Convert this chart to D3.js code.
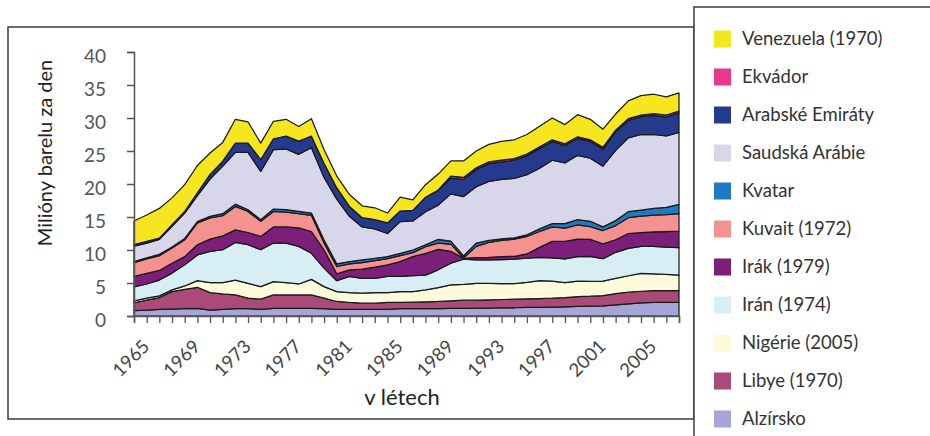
<!DOCTYPE html>
<html><head><meta charset="utf-8">
<script src="https://cdn.jsdelivr.net/npm/d3@7"></script>
<style>body{margin:0;background:#fff}svg{display:block}</style>
</head><body>
<svg id="chart" width="930" height="436"></svg>
<script>
const years = [1965,1966,1967,1968,1969,1970,1971,1972,1973,1974,1975,1976,1977,1978,1979,1980,1981,1982,1983,1984,1985,1986,1987,1988,1989,1990,1991,1992,1993,1994,1995,1996,1997,1998,1999,2000,2001,2002,2003,2004,2005,2006,2007,2008];
const yearLabels = [1965,1969,1973,1977,1981,1985,1989,1993,1997,2001,2005];
const yTicks = [0,5,10,15,20,25,30,35,40];

const alzirsko = [0.8,0.9,1.0,1.05,1.1,1.15,0.9,1.0,1.1,1.1, 1.0,1.15,1.15,1.15,1.15,1.1,1.0,1.0,1.0,1.0, 1.0,1.1,1.1,1.1,1.1,1.15,1.15,1.2,1.2,1.25, 1.25,1.3,1.3,1.35,1.4,1.45,1.5,1.55,1.7,1.85, 2.0,2.05,2.05,2.05];
const libye = [1.2,1.5,1.8,2.65,2.95,3.2,2.65,2.35,2.1,1.6, 1.55,2.05,2.05,2.05,2.05,1.6,1.2,1.05,0.95,0.95, 1.05,0.95,1.0,1.05,1.1,1.15,1.25,1.2,1.25,1.25, 1.3,1.3,1.35,1.35,1.4,1.5,1.5,1.55,1.7,1.75, 1.75,1.8,1.8,1.8];
const nigerie = [0.3,0.3,0.25,0.25,0.5,1.0,1.5,1.7,2.25,2.25, 1.9,2.0,1.85,1.65,2.35,1.75,1.5,1.5,1.5,1.6, 1.5,1.65,1.6,1.8,2.1,2.4,2.4,2.55,2.5,2.4, 2.35,2.5,2.7,2.6,2.27,2.35,2.25,2.2,2.3,2.5, 2.7,2.55,2.45,2.35];
const iran = [2.1,2.15,2.4,2.55,3.2,3.9,4.75,5.0,5.7,5.85, 5.6,5.85,6.0,5.7,3.95,2.8,1.65,2.45,2.25,2.15, 2.45,2.3,2.4,2.25,2.7,3.3,3.8,3.55,3.55,3.65, 3.7,3.65,3.55,3.5,3.58,3.7,3.8,3.4,3.95,4.15, 4.1,4.15,4.15,4.15];
const irak = [1.6,1.6,1.45,1.5,1.25,1.55,1.85,2.1,1.9,1.85, 2.0,2.45,2.45,2.8,3.3,2.75,1.05,1.0,1.4,1.7, 1.75,2.25,2.9,3.3,3.1,1.8,0.15,0.35,0.4,0.45, 0.45,0.65,1.5,2.5,2.65,2.65,2.55,2.25,1.9,2.25, 2.1,2.2,2.35,2.5];
const kuvait = [2.1,2.2,2.25,2.3,2.55,3.3,3.2,3.05,3.55,3.2, 2.3,2.35,2.25,2.15,2.45,1.05,1.1,0.9,1.0,1.0, 0.95,0.9,0.6,1.0,0.95,1.1,0.05,1.7,2.25,2.45, 2.6,2.65,2.4,2.2,2.0,2.15,1.95,2.0,2.15,2.4, 2.5,2.55,2.55,2.65];
const kvatar = [0.15,0.15,0.2,0.15,0.2,0.2,0.25,0.3,0.35,0.25, 0.25,0.35,0.35,0.35,0.35,0.45,0.4,0.35,0.4,0.35, 0.3,0.35,0.4,0.3,0.55,0.45,0.3,0.5,0.3,0.25, 0.2,0.25,0.4,0.5,0.7,0.8,0.8,0.55,0.75,0.9, 0.9,1.0,1.1,1.4];
const saudskaArabie = [2.35,2.25,2.25,3.15,3.85,3.95,5.65,7.2,7.85,8.7, 7.3,9.0,9.2,8.65,9.9,9.5,9.8,6.85,5.0,4.45, 3.5,4.8,4.4,5.0,5.2,7.15,9.0,8.55,8.95,9.0, 9.0,9.1,9.2,9.6,9.2,9.75,9.55,9.2,10.65,11.2, 11.45,11.2,10.85,10.9];
const arabskeEmiraty = [0.2,0.25,0.2,0.25,0.25,0.4,0.7,0.75,1.4,1.4, 1.8,1.65,1.95,2.0,1.75,2.1,1.7,1.5,1.4,1.4, 1.6,1.6,1.6,2.2,2.2,2.4,2.6,2.6,2.7,2.65, 2.75,2.9,3.0,2.85,2.65,2.55,2.55,2.6,2.8,2.65, 2.7,2.9,2.85,2.95];
const ekvador = [0,0,0,0,0,0,0,0,0,0, 0,0,0,0,0,0,0,0,0,0, 0,0,0,0,0.1,0.3,0.3,0.25,0.25,0.25, 0.25,0.25,0.25,0.25,0.25,0.25,0.25,0.25,0.25,0.25, 0.25,0.25,0.3,0.3];
const venezuela = [3.6,4.0,4.5,4.05,4.05,4.15,3.25,2.85,3.6,3.2, 2.5,2.65,2.55,2.2,2.65,2.1,1.8,1.8,1.8,1.8, 1.5,2.1,1.6,1.9,2.4,2.3,2.5,2.55,2.65,2.85, 2.85,2.95,3.1,3.3,2.9,3.35,3.1,2.75,2.45,2.7, 2.95,2.95,2.75,2.75];

// stacking order bottom -> top
const seriesNames = ["Alzírsko","Libye (1970)","Nigérie (2005)","Irán (1974)","Irák (1979)","Kuvait (1972)","Kvatar","Saudská Arábie","Arabské Emiráty","Ekvádor","Venezuela (1970)"];
const seriesValues = [alzirsko,libye,nigerie,iran,irak,kuvait,kvatar,saudskaArabie,arabskeEmiraty,ekvador,venezuela];
const seriesColors = ["#a5a6d6","#a94a78","#fdfadc","#d6eef4","#7b1f7b","#f3928f","#1f7bc1","#d8d6eb","#263a8d","#e8388b","#f5e61f"];

const svg = d3.select("#chart");
const font = "Lato, 'Noto Sans', sans-serif";

// frames
svg.append("rect").attr("x",8).attr("y",27).attr("width",686).attr("height",392)
  .attr("fill","none").attr("stroke","#3a3a3a").attr("stroke-width",1.5);
svg.append("rect").attr("x",694).attr("y",7).attr("width",260).attr("height",460)
  .attr("fill","#fff").attr("stroke","#3a3a3a").attr("stroke-width",1.5);

const x = d3.scaleLinear().domain([years[0], years[years.length-1]]).range([134,679]);
const y = d3.scaleLinear().domain([0,40]).range([316,52]);

const table = years.map((yr,i) => {
  const row = {year: yr};
  seriesNames.forEach((n,k) => row[n] = seriesValues[k][i]);
  return row;
});
const stacked = d3.stack().keys(seriesNames)(table);

const area = d3.area().x(d => x(d.data.year)).y0(d => y(d[0])).y1(d => y(d[1]));
svg.append("g").selectAll("path").data(stacked).join("path")
  .attr("d", area)
  .attr("fill", (d,i) => seriesColors[i])
  .attr("stroke", "#1a1a1a").attr("stroke-width", 1.25).attr("stroke-linejoin","round");

// axes
const yAxis = d3.axisLeft(y).tickValues(yTicks).tickSize(7).tickPadding(21);
const gy = svg.append("g").attr("transform","translate(134,0)").call(yAxis);
gy.select(".domain").attr("stroke","#555").attr("stroke-width",1.5);
gy.selectAll(".tick line").attr("stroke","#555").attr("stroke-width",1.5);
gy.selectAll(".tick text").attr("font-family",font).attr("font-size",19).attr("fill","#555").attr("dy","0.55em");

const xAxis = d3.axisBottom(x).tickValues(years).tickSize(7).tickFormat("");
const gx = svg.append("g").attr("transform","translate(0,316)").call(xAxis);
gx.select(".domain").attr("stroke","#555").attr("stroke-width",1.5);
gx.selectAll(".tick line").attr("stroke","#555").attr("stroke-width",1.3);

svg.append("g").selectAll("text").data(yearLabels).join("text")
  .attr("transform", d => `translate(${x(d)+12},${343}) rotate(-45)`)
  .attr("text-anchor","end").attr("dy","0.35em")
  .attr("font-family",font).attr("font-size",18.5).attr("fill","#444")
  .text(d => d);

svg.append("text").attr("x",402).attr("y",405).attr("text-anchor","middle")
  .attr("font-family",font).attr("font-size",22).attr("fill","#222").text("v létech");
svg.append("text").attr("transform","translate(52,153) rotate(-90)").attr("text-anchor","middle")
  .attr("font-family",font).attr("font-size",20).attr("fill","#222").text("Milióny barelu za den");

// legend (top -> bottom: reverse stacking order)
const legendItems = seriesNames.map((n,i) => ({name:n, color:seriesColors[i]})).reverse();
const lg = svg.append("g").selectAll("g").data(legendItems).join("g")
  .attr("transform",(d,i) => `translate(714,${39 + i*38})`);
lg.append("rect").attr("x",0).attr("y",-8.5).attr("width",17).attr("height",17).attr("fill",d=>d.color);
lg.append("text").attr("x",28).attr("y",0).attr("dy","0.35em")
  .attr("font-family",font).attr("font-size",18.5).attr("fill","#333").text(d=>d.name);
</script>
</body></html>
